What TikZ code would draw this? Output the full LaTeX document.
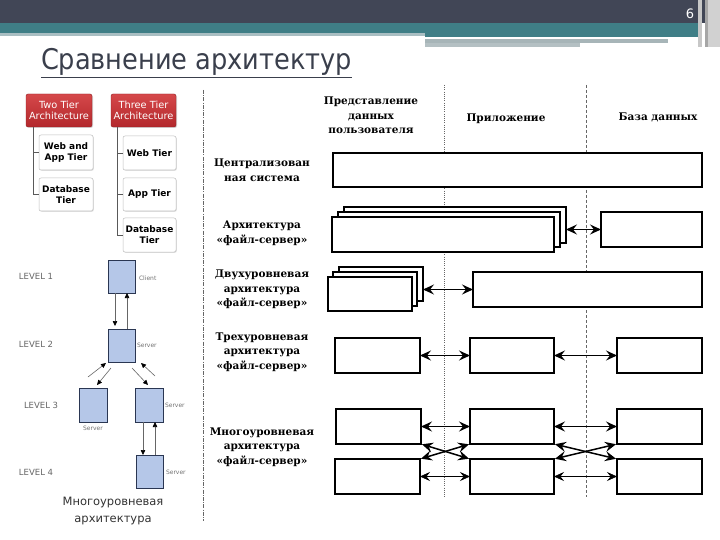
\documentclass[tikz,border=0pt]{standalone}
\usepackage{fontspec}
\setmainfont{DejaVu Sans}
\newfontfamily\hf{DejaVu Serif}
\newfontfamily\tf{DejaVu Sans Condensed}
\usetikzlibrary{arrows.meta,calc,shadows}
\definecolor{hdark}{HTML}{414656}
\definecolor{hteal}{HTML}{3F7E86}
\definecolor{hlight}{HTML}{A9BEC2}
\definecolor{hgrey}{HTML}{A7B5B8}
\definecolor{ttl}{HTML}{3A3F4C}
\definecolor{redtop}{HTML}{D5484A}
\definecolor{redbot}{HTML}{B3282C}
\definecolor{lvfill}{HTML}{B5C7E8}
\definecolor{lvdraw}{HTML}{2A3652}
\newcommand\drawbox[6][]{\node[box,#1,minimum width={(#5-#3)*1pt},minimum height={(#6-#4)*1pt}] (#2) at ({(#3+#5)/2},{(#4+#6)/2}) {};}
\tikzset{
  box/.style={draw=black, line width=1.5pt, fill=white, inner sep=0pt},
  tipa/.tip={Stealth[length=11pt,width=10pt,inset=4pt]},
  tipb/.tip={Stealth[length=10pt,width=9pt,inset=3.6pt]},
  arr/.style={tipa-tipa, line width=1.5pt},
  arrthin/.style={tipb-tipb, line width=0.7pt},
  redhead/.style={rounded corners=2pt, top color=redtop, bottom color=redbot, draw=redbot!80!black, line width=0.4pt, text=white, align=center, font=\fontsize{9.8}{11.3}\selectfont, drop shadow={opacity=0.3, shadow xshift=1pt, shadow yshift=-1pt}},
  child/.style={rounded corners=2pt, draw=black!25, fill=white, line width=0.5pt, align=center, font=\bfseries\fontsize{9}{11}\selectfont, drop shadow={opacity=0.25, shadow xshift=0.8pt, shadow yshift=-0.8pt}},
  tree/.style={draw=black!65, line width=0.6pt},
  lv/.style={fill=lvfill, draw=lvdraw, line width=0.6pt},
  larr/.style={-{Triangle[length=5pt,width=4.5pt,color=black]}, draw=black!60, line width=0.6pt},
  lbl/.style={font=\fontsize{6}{7}\selectfont, text=black!55},
  lvl/.style={font=\fontsize{8.5}{10}\selectfont, text=black!60, anchor=west},
  hd/.style={font=\hf\bfseries\fontsize{10.5}{14.5}\selectfont, align=center},
  divl/.style={draw=black!60, line width=0.6pt}
}
\begin{document}
\begin{tikzpicture}[x=1pt,y=-1pt, every node/.style={inner sep=0pt, outer sep=0pt}]
\useasboundingbox (0,0) rectangle (720,540);
\fill[white] (0,0) rectangle (720,540);
% header band
\fill[hdark] (0,0) rectangle (720,23);
\fill[hteal] (0,23) rectangle (700,33);
\fill[hlight] (0,33) rectangle (425,36);
\fill[hteal] (425,33) rectangle (700,37);
\fill[hgrey] (425,39) rectangle (668,43);
\fill[hgrey!85] (425,43) rectangle (580,47);
\fill[black!22] (698,0) rectangle (702,47);
\fill[black!35] (705,0) rectangle (708,47);
\fill[black!18] (708,0) rectangle (720,47);
\node[text=white, font=\fontsize{13}{14}\selectfont] (pg) at (690,14) {6};
% title
\node[anchor=base west, font=\tf\fontsize{28.5}{30}\selectfont, text=ttl] (title) at (41,70) {\underline{Сравнение архитектур}};
% left tier panel
\node[redhead, minimum width=66, minimum height=33] (tt) at (59,110.5) {Two Tier\\Architecture};
\node[redhead, minimum width=65, minimum height=33] (th) at (143.5,110.5) {Three Tier\\Architecture};
\node[child, minimum width=54, minimum height=35] (tt1) at (66,152.5) {Web and\\App Tier};
\node[child, minimum width=54, minimum height=33] (tt2) at (66,194.5) {Database\\Tier};
\node[child, minimum width=53, minimum height=34] (th1) at (149.5,153) {Web Tier};
\node[child, minimum width=53, minimum height=33] (th2) at (149.5,194.5) {App Tier};
\node[child, minimum width=53, minimum height=34] (th3) at (149.5,235) {Database\\Tier};
\draw[tree] ($(tt.south west)+(7,0)$) |- (tt2.west);
\draw[tree] ($(tt.south west)+(7,0)$) |- (tt1.west);
\draw[tree] ($(th.south west)+(6,0)$) |- (th3.west);
\draw[tree] ($(th.south west)+(6,0)$) |- (th2.west);
\draw[tree] ($(th.south west)+(6,0)$) |- (th1.west);
% level diagram
\node[lv, minimum width=27, minimum height=33] (cl) at (121.5,276.5) {};
\node[lv, minimum width=27, minimum height=33] (s2) at (121.5,345.5) {};
\node[lv, minimum width=28, minimum height=34] (s3a) at (93,405) {};
\node[lv, minimum width=28, minimum height=34] (s3b) at (149,405) {};
\node[lv, minimum width=27, minimum height=33] (s4) at (149.5,471.5) {};
\node[lbl, anchor=west] (lc) at (139,278) {Client};
\node[lbl, anchor=west] (ls2) at (137,345) {Server};
\node[lbl] (ls3a) at (93,428) {Server};
\node[lbl, anchor=west] (ls3b) at (165,405) {Server};
\node[lbl, anchor=west] (ls4) at (166,472) {Server};
\node[lvl] (l1) at (19,276) {LEVEL 1};
\node[lvl] (l2) at (19,344) {LEVEL 2};
\node[lvl] (l3) at (24,405) {LEVEL 3};
\node[lvl] (l4) at (19,472) {LEVEL 4};
\draw[larr, shorten >=3pt] ([xshift=-6.5pt]cl.south) -- ([xshift=-6.5pt]s2.north);
\draw[larr] ([xshift=5.5pt]s2.north) -- ([xshift=5.5pt]cl.south);
\coordinate (d1a) at (88,377); \coordinate (d1b) at (106,363);
\coordinate (d2a) at (111,368); \coordinate (d2b) at (97,385);
\coordinate (d3a) at (132,368); \coordinate (d3b) at (148,385);
\coordinate (d4a) at (155,376); \coordinate (d4b) at (141,363);
\draw[larr] (d1a) -- (d1b);
\draw[larr] (d2a) -- (d2b);
\draw[larr] (d3a) -- (d3b);
\draw[larr] (d4a) -- (d4b);
\draw[larr] ([xshift=-6pt]s3b.south) -- ([xshift=-6pt]s3b.south |- s4.north);
\draw[larr] ([xshift=6pt]s3b.south |- s4.north) -- ([xshift=6pt]s3b.south);
\node[font=\fontsize{11.5}{17}\selectfont, text=black!80, align=center] (cap) at (113,511) {Многоуровневая\\архитектура};
% dividers
\draw[divl, dash pattern=on 4pt off 1.2pt on 1pt off 1.2pt] (203,90) -- (203,521);
\draw[divl, dash pattern=on 1pt off 1.2pt] (444,85) -- (444,497);
\draw[divl, dash pattern=on 3pt off 2pt] (586,85) -- (586,497);
% headers
\node[hd] (h1) at (371,115.5) {Представление\\данных\\пользователя};
\node[hd] (h2) at (506,119) {Приложение};
\node[hd] (h3) at (658,117) {База данных};
% row labels
\node[hd] (r1) at (262,170) {Централизован\\ная система};
\node[hd] (r2) at (262,233.5) {Архитектура\\«файл-сервер»};
\node[hd] (r3) at (262,289.5) {Двухуровневая\\архитектура\\«файл-сервер»};
\node[hd] (r4) at (262,352) {Трехуровневая\\архитектура\\«файл-сервер»};
\node[hd] (r5) at (262,447) {Многоуровневая\\архитектура\\«файл-сервер»};
% row 1
\drawbox{c1}{333}{153}{702}{187}
% row 2
\drawbox{f2c}{344}{207}{566}{243}
\drawbox{f2b}{338}{212}{560}{247}
\drawbox{f2a}{332}{217}{554}{252}
\drawbox{f2d}{601}{212}{702}{247}
\draw[arr] (f2c.east |- f2d.west) -- (f2d.west);
% row 3
\drawbox{t3c}{339}{267}{423}{301}
\drawbox{t3b}{333}{272}{417}{306}
\drawbox{t3a}{328}{277}{412}{311}
\drawbox{t3d}{473}{272}{702}{307}
\draw[arr] (t3c.east |- t3d.west) -- (t3d.west);
% row 4
\drawbox{r4a}{335}{338}{420}{373}
\drawbox{r4b}{470}{338}{554}{373}
\drawbox{r4c}{617}{338}{702}{373}
\draw[arr] (r4a.east) -- (r4b.west);
\draw[arr] (r4b.east) -- (r4c.west);
% row 5
\drawbox{m5a}{336}{409}{421}{444}
\drawbox{m5b}{470}{409}{554}{444}
\drawbox{m5c}{617}{409}{702}{444}
\drawbox{m5d}{335}{459}{420}{494}
\drawbox{m5e}{470}{459}{554}{494}
\drawbox{m5f}{617}{459}{702}{494}
\draw[arr] (m5a.east) -- (m5b.west);
\draw[arr] (m5b.east) -- (m5c.west);
\draw[arrthin] (m5d.east) -- (m5e.west);
\draw[arrthin] (m5e.east) -- (m5f.west);
\draw[arr, shorten <=1pt, shorten >=1pt] (m5a.south east) -- (m5e.north west);
\draw[arr, shorten <=1pt, shorten >=1pt] (m5d.north east) -- (m5b.south west);
\draw[arr, shorten <=1pt, shorten >=1pt] (m5b.south east) -- (m5f.north west);
\draw[arr, shorten <=1pt, shorten >=1pt] (m5e.north east) -- (m5c.south west);
\end{tikzpicture}
\end{document}
